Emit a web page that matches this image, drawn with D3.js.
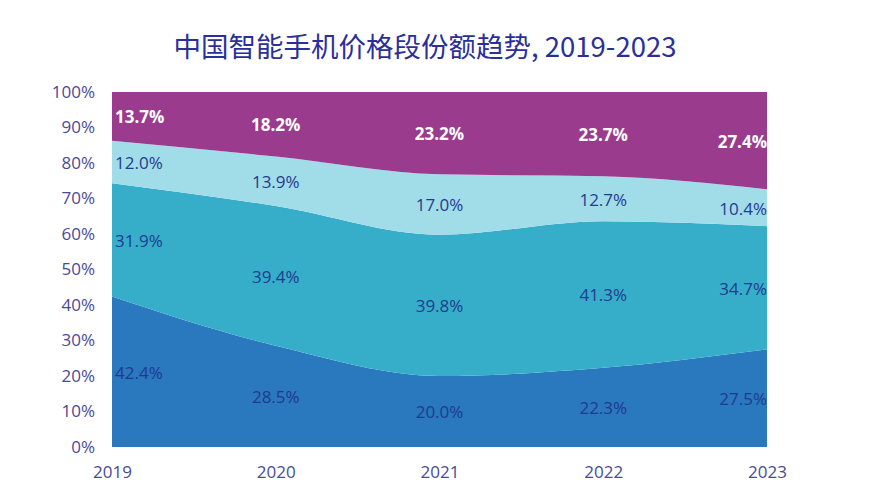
<!DOCTYPE html>
<html><head><meta charset="utf-8">
<script src="https://cdn.jsdelivr.net/npm/d3@7"></script>
<style>body{margin:0;background:#fff;}svg{display:block;}</style>
</head><body>
<svg id="c" width="870" height="492"></svg>
<script>
const years = ["2019","2020","2021","2022","2023"];
const seriesNames = ["s1","s2","s3","s4"];
const s1 = [42.4, 28.5, 20.0, 22.3, 27.5];
const s2 = [31.9, 39.4, 39.8, 41.3, 34.7];
const s3 = [12.0, 13.9, 17.0, 12.7, 10.4];
const s4 = [13.7, 18.2, 23.2, 23.7, 27.4];
const colors = ["#2a78bd", "#36aec9", "#a1dce9", "#9a3b8d"];
const labelColors = ["#1f3b8f", "#1f3b8f", "#1f3b8f", "#ffffff"];
const yTicks = [0,10,20,30,40,50,60,70,80,90,100];
const title = "中国智能手机价格段份额趋势, 2019-2023";

const rows = years.map((y,i)=>({year:y, s1:s1[i], s2:s2[i], s3:s3[i], s4:s4[i]}));
const stack = d3.stack().keys(seriesNames)(rows);

const svg = d3.select("#c");
const mLeft = 112, mRight = 767, mTop = 92, mBottom = 447;
const x = d3.scalePoint().domain(years).range([mLeft, mRight]);
const y = d3.scaleLinear().domain([0,100]).range([mBottom, mTop]);
const cjkFont = "'Noto Sans CJK SC','Noto Sans',sans-serif";
const numFont = "'Open Sans','Noto Sans',sans-serif";

svg.append("text").attr("x", 425).attr("y", 57).attr("text-anchor","middle")
  .attr("font-family", cjkFont).attr("font-size", 27.5).attr("fill", "#2b2f9a").text(title);

const area = d3.area().x(d=>x(d.data.year)).y0(d=>y(d[0])).y1(d=>y(d[1])).curve(d3.curveMonotoneX);
svg.append("g").selectAll("path").data(stack).join("path")
  .attr("d", area).attr("fill", (d,i)=>colors[i]);

// y axis
const yAxis = d3.axisLeft(y).tickValues(yTicks).tickFormat(d=>d+"%").tickSize(0).tickPadding(17);
const gy = svg.append("g").attr("transform", `translate(${mLeft},0)`).call(yAxis);
gy.select(".domain").remove();
gy.selectAll("text").attr("font-family", numFont).attr("font-size", 17).attr("fill", "#4b4a95");

// x axis
const xAxis = d3.axisBottom(x).tickSize(0).tickPadding(19);
const gx = svg.append("g").attr("transform", `translate(0,${mBottom})`).call(xAxis);
gx.select(".domain").remove();
gx.selectAll("text").attr("font-family", numFont).attr("font-size", 17).attr("fill", "#4b4a95");

// labels
stack.forEach((ser, si) => {
  ser.forEach((d, i) => {
    const v = d[1]-d[0];
    const anchor = i===0 ? "start" : (i===years.length-1 ? "end" : "middle");
    const dx = i===0 ? 3 : 0;
    svg.append("text")
      .attr("x", x(d.data.year)+dx).attr("y", y((d[0]+d[1])/2) + 1)
      .attr("dy", "0.35em").attr("text-anchor", anchor)
      .attr("font-family", numFont).attr("font-size", 17)
      .attr("font-weight", si===3 ? "bold" : "normal")
      .attr("fill", labelColors[si]).text(v.toFixed(1)+"%");
  });
});
</script>
</body></html>
